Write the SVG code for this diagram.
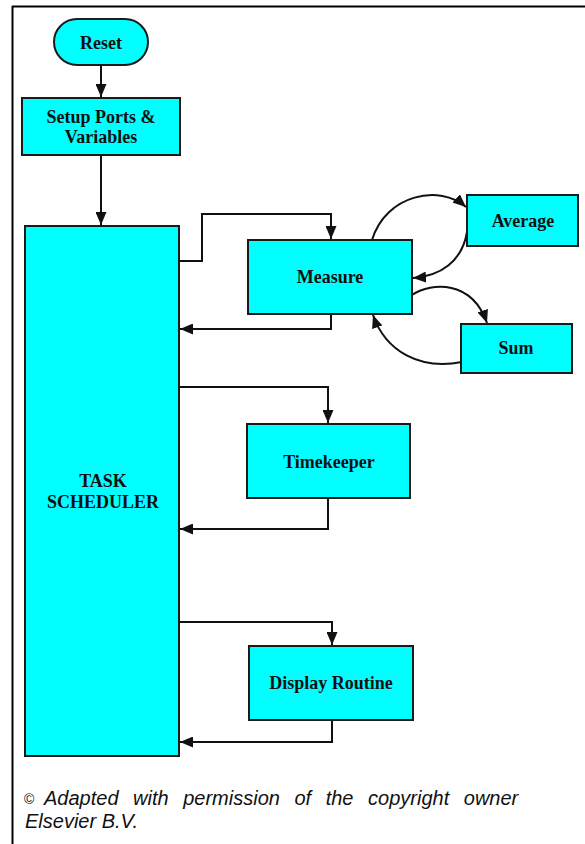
<svg xmlns="http://www.w3.org/2000/svg" width="585" height="844" viewBox="0 0 585 844">
<style>
.box{fill:#00FFFF;stroke:#1a1a1a;stroke-width:2}
.lbl{font-family:"Liberation Serif","Times New Roman",serif;font-weight:bold;font-size:18px;fill:#111;text-anchor:middle}
.cn{fill:none;stroke:#111;stroke-width:2}
.cap{font-family:"Liberation Sans",Arial,sans-serif;font-style:italic;font-size:20px;fill:#111}
</style>
<defs>
<marker id="ah" viewBox="0 0 13 11" refX="13" refY="5.5" markerWidth="13" markerHeight="11" markerUnits="userSpaceOnUse" orient="auto">
<path d="M0,0 L13,5.5 L0,11 Z" fill="#111"/>
</marker>
</defs>
<rect x="0" y="0" width="585" height="844" fill="#fff"/>
<g id="frame">
<line x1="12.5" y1="6" x2="12.5" y2="844" stroke="#000" stroke-width="2"/>
<line x1="12" y1="6.5" x2="585" y2="6.5" stroke="#000" stroke-width="2"/>
</g>
<g id="connectors">
<line class="cn" x1="101" y1="65" x2="101" y2="97" marker-end="url(#ah)"/>
<line class="cn" x1="101" y1="155" x2="101" y2="225" marker-end="url(#ah)"/>
<polyline class="cn" points="179,261 202,261 202,214 331,214 331,239" marker-end="url(#ah)"/>
<polyline class="cn" points="331,314 331,329 180,329" marker-end="url(#ah)"/>
<path class="cn" d="M372,240 C386,194 440,184 466,207" marker-end="url(#ah)"/>
<path class="cn" d="M467,232 C462,262 440,276 413,278" marker-end="url(#ah)"/>
<path class="cn" d="M412,295 C432,282 472,280 487,323" marker-end="url(#ah)"/>
<path class="cn" d="M462,362 C420,370 386,352 373,315" marker-end="url(#ah)"/>
<polyline class="cn" points="179,387 328,387 328,423" marker-end="url(#ah)"/>
<polyline class="cn" points="328,498 328,529 180,529" marker-end="url(#ah)"/>
<polyline class="cn" points="179,622 332,622 332,645" marker-end="url(#ah)"/>
<polyline class="cn" points="332,720 332,742 180,742" marker-end="url(#ah)"/>
</g>
<g id="reset">
<rect class="box" x="54" y="19" width="94" height="46" rx="23"/>
<text class="lbl" x="101" y="49">Reset</text>
</g>
<g id="setup">
<rect class="box" x="22" y="98" width="158" height="57"/>
<text class="lbl" x="101" y="123">Setup Ports &amp;</text>
<text class="lbl" x="101" y="143">Variables</text>
</g>
<g id="scheduler">
<rect class="box" x="25" y="226" width="154" height="530"/>
<text class="lbl" x="103" y="487">TASK</text>
<text class="lbl" x="103" y="508">SCHEDULER</text>
</g>
<g id="measure">
<rect class="box" x="248" y="240" width="164" height="74"/>
<text class="lbl" x="330" y="283">Measure</text>
</g>
<g id="average">
<rect class="box" x="467" y="195" width="111" height="51"/>
<text class="lbl" x="523" y="227">Average</text>
</g>
<g id="sum">
<rect class="box" x="461" y="324" width="111" height="49"/>
<text class="lbl" x="516" y="354">Sum</text>
</g>
<g id="timekeeper">
<rect class="box" x="247" y="424" width="163" height="74"/>
<text class="lbl" x="329" y="468">Timekeeper</text>
</g>
<g id="display">
<rect class="box" x="249" y="646" width="164" height="74"/>
<text class="lbl" x="331" y="689">Display Routine</text>
</g>
<g id="caption">
<text class="cap" x="24" y="804"><tspan font-size="14" font-style="normal">©</tspan></text>
<text class="cap" x="44" y="805" word-spacing="9">Adapted with permission of the copyright owner</text>
<text class="cap" x="25" y="828">Elsevier B.V.</text>
</g>
</svg>
